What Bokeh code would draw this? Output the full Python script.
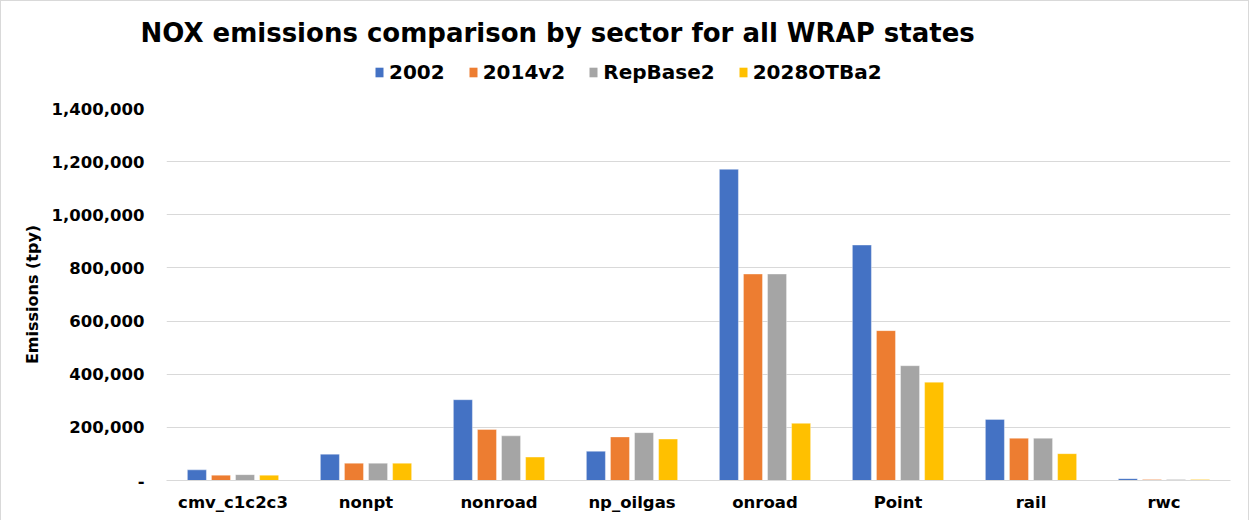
from bokeh.plotting import figure
from bokeh.layouts import column
from bokeh.models import ColumnDataSource, FactorRange, Legend, LegendItem, Title, NumeralTickFormatter, Range1d
from bokeh.transform import dodge
from bokeh.embed import file_html
from bokeh.resources import INLINE

sectors = ["cmv_c1c2c3", "nonpt", "nonroad", "np_oilgas", "onroad", "Point", "rail", "rwc"]
series_names = ["2002", "2014v2", "RepBase2", "2028OTBa2"]
v2002 = [40000, 99000, 304000, 110000, 1171000, 886000, 230000, 7000]
v2014v2 = [20000, 65000, 192000, 164000, 777000, 564000, 159000, 4000]
vRepBase2 = [22000, 65000, 168000, 180000, 777000, 432000, 159000, 4000]
v2028OTBa2 = [20000, 65000, 88000, 156000, 215000, 370000, 101000, 4000]
colors = ["#4472C4", "#ED7D31", "#A5A5A5", "#FFC000"]
y_ticks = [0, 200000, 400000, 600000, 800000, 1000000, 1200000, 1400000]
title_text = "NOX emissions comparison by sector for all WRAP states"

FONT = "DejaVu Sans"

# ---------- header (title + legend) ----------
h = figure(width=1247, height=95, output_backend="svg", toolbar_location=None,
           x_range=Range1d(0, 1), y_range=Range1d(0, 1),
           x_axis_type=None, y_axis_type=None,
           min_border_left=0, min_border_right=0, min_border_top=48, min_border_bottom=0)
h.outline_line_color = None
h.xgrid.visible = False
h.ygrid.visible = False
h.background_fill_color = "white"
h.border_fill_color = "white"
h.title = None

h.add_layout(Title(text=title_text, text_font=FONT, text_font_style="bold",
                   text_font_size="26px", text_color="black", align="left",
                   offset=-26, standoff=4), "above")

proxy_src = ColumnDataSource(dict(x=[0.5], top=[0.5]))
proxies = []
for c in colors:
    r = h.vbar(x="x", top="top", width=0.1, source=proxy_src, fill_color=c, line_color=None)
    r.visible = False
    proxies.append(r)
legend = Legend(items=[LegendItem(label=n, renderers=[r]) for n, r in zip(series_names, proxies)],
                orientation="horizontal", location=(208, 12),
                label_text_font=FONT, label_text_font_style="bold", label_text_font_size="20px",
                label_text_color="black",
                glyph_width=10, glyph_height=12, label_standoff=5, spacing=23,
                padding=0, margin=0, border_line_color=None, background_fill_alpha=0,
                inactive_fill_alpha=0)
h.add_layout(legend, "center")

# ---------- main chart ----------
src = ColumnDataSource(dict(sector=sectors, s0=v2002, s1=v2014v2, s2=vRepBase2, s3=v2028OTBa2))

p = figure(x_range=FactorRange(*sectors), y_range=Range1d(0, 1400000),
           width=1247, height=424, output_backend="svg", toolbar_location=None,
           min_border_left=165, min_border_right=18, min_border_top=12, min_border_bottom=40)
p.frame_width = 1064
p.frame_height = 372
p.x_range.range_padding = 0
p.outline_line_color = None
p.background_fill_color = "white"
p.border_fill_color = "white"

offsets = [-0.2715, -0.0905, 0.0905, 0.2715]
for i, (col, c) in enumerate(zip(["s0", "s1", "s2", "s3"], colors)):
    p.vbar(x=dodge("sector", offsets[i], range=p.x_range), top=col, width=0.143,
           source=src, fill_color=c, line_color="white", line_width=0.6, line_alpha=0.6)

p.xgrid.grid_line_color = None
p.ygrid.grid_line_color = "#d9d9d9"
p.ygrid.grid_line_width = 1

p.yaxis.ticker = y_ticks
p.yaxis.formatter = NumeralTickFormatter(format="0,0")
p.yaxis.major_label_overrides = {0: "-"}
p.yaxis.axis_line_color = None
p.yaxis.major_tick_line_color = None
p.yaxis.minor_tick_line_color = None
p.yaxis.major_tick_out = 0
p.yaxis.minor_tick_out = 0
p.yaxis.major_label_text_font = FONT
p.yaxis.major_label_text_font_style = "bold"
p.yaxis.major_label_text_font_size = "16.5px"
p.yaxis.major_label_text_color = "black"
p.yaxis.major_label_standoff = 22
p.yaxis.axis_label = "Emissions (tpy)"
p.yaxis.axis_label_text_font = FONT
p.yaxis.axis_label_text_font_style = "bold"
p.yaxis.axis_label_text_font_size = "16px"
p.yaxis.axis_label_text_color = "black"
p.yaxis.axis_label_standoff = 7

p.xaxis.axis_line_color = "#d9d9d9"
p.xaxis.major_tick_line_color = None
p.xaxis.minor_tick_line_color = None
p.xaxis.major_tick_out = 0
p.xaxis.minor_tick_out = 0
p.xaxis.major_label_text_font = FONT
p.xaxis.major_label_text_font_style = "bold"
p.xaxis.major_label_text_font_size = "16.5px"
p.xaxis.major_label_text_color = "black"
p.xaxis.major_label_standoff = 12

layout = column(h, p, spacing=0)
layout.styles = {"border-left": "1px solid #d9d9d9", "border-right": "1px solid #d9d9d9",
                 "border-top": "1px solid #d9d9d9", "background-color": "white"}
open("out.html", "w").write(file_html(layout, INLINE))
